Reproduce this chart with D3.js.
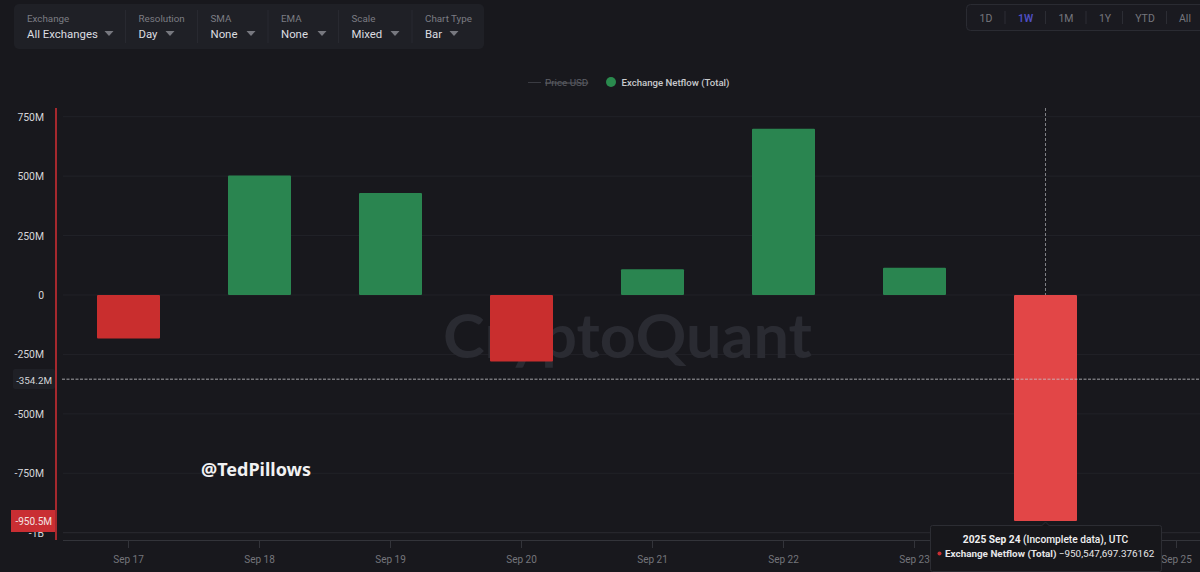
<!DOCTYPE html>
<html><head><meta charset="utf-8">
<script src="https://cdn.jsdelivr.net/npm/d3@7/dist/d3.min.js"></script>
<style>html,body{margin:0;padding:0;background:#18181d;overflow:hidden}svg{display:block}text{font-family:Roboto,"Noto Sans",sans-serif}</style>
</head><body><svg id="c" width="1200" height="572"></svg>
<script>
const days = ["Sep 17","Sep 18","Sep 19","Sep 20","Sep 21","Sep 22","Sep 23","Sep 24","Sep 25"];
const netflow = [-183e6,503e6,429e6,-280e6,108e6,699e6,115e6,-950547697.376162,null];
const yTicks = [750e6,500e6,250e6,0,-250e6,-500e6,-750e6,-1e9];
const yTickLabels = ["750M","500M","250M","0","-250M","-500M","-750M","-1B"];
const controlLabels = ["Exchange","Resolution","SMA","EMA","Scale","Chart Type"];
const controlValues = ["All Exchanges","Day","None","None","Mixed","Bar"];
const ranges = ["1D","1W","1M","1Y","YTD","All"];
const crosshairValue = -354.2e6;

const svg = d3.select("#c");
const y = d3.scaleLinear().domain([750e6,-1e9]).range([116.7,532.7]);
const x = d3.scalePoint().domain(days).range([128.5,1176.5]);
const barW = 63;

// controls panel
svg.append("rect").attr("x",14).attr("y",4).attr("width",470).attr("height",45).attr("rx",5).attr("fill","#1f2026");
const ctrlX=[27,138.5,210.5,281,351.5,425], caretX=[109,170,251,322,395,454];
controlLabels.forEach((l,i)=>{
  svg.append("text").attr("x",ctrlX[i]).attr("y",21.5).attr("font-size",9.8).attr("fill","#7b7c83").text(l);
  svg.append("text").attr("x",ctrlX[i]).attr("y",38).attr("font-size",11.4).attr("fill","#dcdde0").text(controlValues[i]);
  svg.append("path").attr("d",`M${caretX[i]-4.5},31 h9 l-4.5,5 z`).attr("fill","#77787f");
  if(i>0) svg.append("line").attr("x1",ctrlX[i]-13).attr("x2",ctrlX[i]-13).attr("y1",10).attr("y2",43).attr("stroke","#282930");
});

// range selector
svg.append("rect").attr("x",966.5).attr("y",4.5).attr("width",240).attr("height",26).attr("rx",4).attr("fill","#1a1a20").attr("stroke","#2a2b32");
const rangeX=[986,1025.5,1066,1105,1145,1185];
ranges.forEach((r,i)=>{
  svg.append("text").attr("x",rangeX[i]).attr("y",22).attr("text-anchor","middle").attr("font-size",10.5)
    .attr("fill",r==="1W"?"#4f4fc4":"#75767d").attr("font-weight",r==="1W"?600:400).text(r);
  if(i<5) svg.append("line").attr("x1",[1005,1045.5,1086,1122.5,1166.5][i]).attr("x2",[1005,1045.5,1086,1122.5,1166.5][i]).attr("y1",11).attr("y2",24).attr("stroke","#2c2d34");
});

// legend
svg.append("line").attr("x1",528).attr("x2",541).attr("y1",82.5).attr("y2",82.5).attr("stroke","#3a3b42");
svg.append("text").attr("x",545).attr("y",86).attr("font-size",9.8).attr("fill","#5d5e65").attr("text-decoration","line-through").text("Price USD");
svg.append("circle").attr("cx",611).attr("cy",82).attr("r",5).attr("fill","#2a8a4e");
svg.append("text").attr("x",621.5).attr("y",86).attr("font-size",9.6).attr("font-weight",500).attr("fill","#c9cacd").text("Exchange Netflow (Total)");

// grid
svg.append("g").selectAll("line").data(yTicks).join("line")
  .attr("x1",63).attr("x2",1200).attr("y1",d=>y(d)).attr("y2",d=>y(d)).attr("stroke",(d,i)=>i===7?"#2a2b31":"#212228");

// watermark
svg.append("text").attr("x",443).attr("y",358).attr("style","font-family:Lato")
  .attr("font-size",62).attr("font-weight",700).attr("fill","#2a2b32")
  .attr("textLength",369).attr("lengthAdjust","spacingAndGlyphs").text("CryptoQuant");

// bars
const bars = days.map((d,i)=>({d,v:netflow[i]})).filter(o=>o.v!==null);
svg.append("g").selectAll("rect").data(bars).join("rect")
  .attr("x",o=>x(o.d)-barW/2).attr("width",barW)
  .attr("y",o=>Math.min(y(o.v),y(0))).attr("height",o=>Math.abs(y(o.v)-y(0)))
  .attr("rx",1)
  .attr("fill",o=>o.d==="Sep 24"?"#e24647":o.v<0?"#c92e2e":"#2a8550");

// crosshairs
svg.append("line").attr("x1",62).attr("x2",1200).attr("y1",y(crosshairValue)).attr("y2",y(crosshairValue))
  .attr("stroke","#c6c7ca").attr("stroke-width",.8).attr("stroke-dasharray","3 1.5");
svg.append("line").attr("x1",x("Sep 24")).attr("x2",x("Sep 24")).attr("y1",108).attr("y2",295)
  .attr("stroke","#8b8c91").attr("stroke-width",.9).attr("stroke-dasharray","3 2");

// y axis
svg.append("line").attr("x1",56).attr("x2",56).attr("y1",108).attr("y2",540).attr("stroke","#b52b30").attr("stroke-width",1.8);
svg.append("g").selectAll("text").data(yTicks).join("text")
  .attr("x",44).attr("y",d=>y(d)+4).attr("text-anchor","end").attr("font-size",10.4).attr("fill","#d5d6d9")
  .text((d,i)=>yTickLabels[i]);
svg.append("rect").attr("x",13).attr("y",369).attr("width",42).attr("height",20).attr("rx",2).attr("fill","#1f2026");
svg.append("text").attr("x",52).attr("y",383.5).attr("text-anchor","end").attr("font-size",9.8).attr("fill","#d5d6d9").text("-354.2M");
svg.append("rect").attr("x",11).attr("y",510).attr("width",44).attr("height",22).attr("fill","#c92e33");
svg.append("text").attr("x",52).attr("y",525).attr("text-anchor","end").attr("font-size",10).attr("fill","#f2e4e4").text("-950.5M");

// x axis
svg.append("line").attr("x1",63).attr("x2",1200).attr("y1",540.5).attr("y2",540.5).attr("stroke","#33343a");
const xg = svg.append("g").selectAll("g").data(days).join("g");
xg.append("line").attr("x1",d=>x(d)).attr("x2",d=>x(d)).attr("y1",541).attr("y2",548).attr("stroke","#33343a");
xg.filter(d=>d!=="Sep 24").append("text").attr("x",d=>x(d)).attr("y",563).attr("text-anchor","middle").attr("font-size",10).attr("fill","#74757b").text(d=>d);

// annotation
svg.append("text").attr("x",201).attr("y",476).attr("style","font-family:'Noto Sans'").attr("font-size",18).attr("font-weight",700).attr("fill","#f1f1f2").text("@TedPillows");

// tooltip
svg.append("rect").attr("x",930.5).attr("y",525.5).attr("width",231).attr("height",46).attr("rx",2).attr("fill","#17171b").attr("stroke","#2c2d33");
svg.append("path").attr("d",`M${x("Sep 24")-4},526 l4,-4 l4,4`).attr("fill","#17171b").attr("stroke","#2c2d33");
const t1=svg.append("text").attr("x",1045.5).attr("y",543).attr("text-anchor","middle").attr("font-size",10.2).attr("fill","#f0f0f1");
t1.append("tspan").attr("font-weight",700).text("2025 Sep 24");
t1.append("tspan").attr("font-weight",500).text(" (Incomplete data), UTC");
svg.append("circle").attr("cx",939.5).attr("cy",553.5).attr("r",2).attr("fill","#c92e33");
const t2=svg.append("text").attr("x",945).attr("y",556.5).attr("font-size",9.9).attr("fill","#e6e6e8");
t2.append("tspan").attr("font-weight",700).text("Exchange Netflow (Total)");
t2.append("tspan").text(" "+d3.format(",.6f")(netflow[7]));
</script></body></html>
